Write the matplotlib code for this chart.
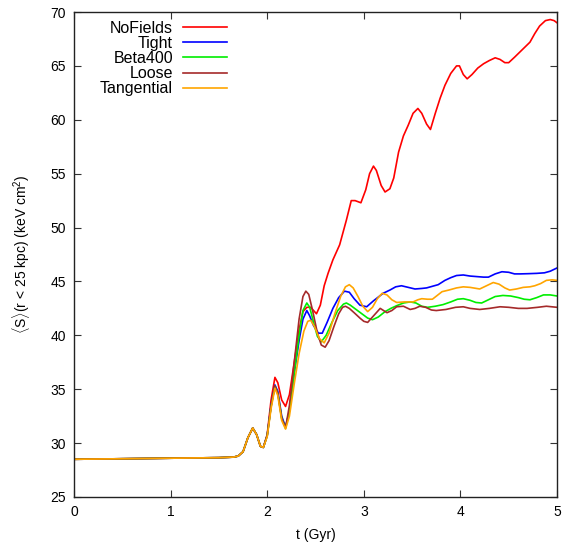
import matplotlib
matplotlib.use("Agg")
import matplotlib.pyplot as plt
import numpy as np

plt.rcParams['font.family'] = ['Liberation Sans', 'DejaVu Sans']
plt.rcParams['mathtext.fontset'] = 'custom'
plt.rcParams['mathtext.rm'] = 'Liberation Sans'
plt.rcParams['mathtext.it'] = 'Liberation Sans:italic'

# shared early evolution
t_common = [0.0, 0.5, 1.0, 1.5, 1.65, 1.70, 1.75, 1.80, 1.85, 1.89, 1.93, 1.96]
s_common = [28.5, 28.55, 28.6, 28.65, 28.7, 28.8, 29.2, 30.5, 31.4, 30.8, 29.7, 29.6]

t_nofields = [2.0, 2.04, 2.08, 2.11, 2.15, 2.19, 2.23, 2.28, 2.33, 2.37, 2.41, 2.45, 2.48, 2.51,
              2.55, 2.59, 2.63, 2.68, 2.75, 2.82, 2.87, 2.91, 2.97, 3.02, 3.06, 3.1, 3.13, 3.18,
              3.22, 3.27, 3.31, 3.36, 3.41, 3.46, 3.51, 3.56, 3.6, 3.65, 3.69, 3.74, 3.79, 3.84,
              3.9, 3.96, 3.99, 4.03, 4.07, 4.12, 4.18, 4.24, 4.3, 4.36, 4.41, 4.46, 4.5, 4.56,
              4.64, 4.72, 4.77, 4.82, 4.88, 4.93, 4.97, 5.0]
s_nofields = [30.8, 34.0, 36.1, 35.6, 34.0, 33.4, 34.5, 37.5, 40.5, 42.2, 42.6, 42.6, 42.3, 42.0,
              42.8, 44.6, 45.75, 47.0, 48.4, 50.7, 52.5, 52.5, 52.3, 53.5, 55.0, 55.7, 55.3, 53.9,
              53.3, 53.6, 54.6, 57.0, 58.5, 59.5, 60.6, 61.05, 60.6, 59.6, 59.1, 60.6, 62.0, 63.2,
              64.3, 65.0, 65.0, 64.2, 63.8, 64.2, 64.8, 65.2, 65.5, 65.75, 65.6, 65.3, 65.3, 65.8,
              66.5, 67.2, 68.0, 68.7, 69.2, 69.3, 69.2, 69.0]

t_tight = [2.0, 2.04, 2.08, 2.11, 2.15, 2.19, 2.23, 2.28, 2.33, 2.37, 2.41, 2.44, 2.48, 2.53,
           2.57, 2.62, 2.68, 2.74, 2.8, 2.85, 2.9, 2.96, 3.03, 3.1, 3.2, 3.27, 3.33, 3.39, 3.46,
           3.53, 3.6, 3.65, 3.71, 3.77, 3.84, 3.9, 3.96, 4.03, 4.1, 4.17, 4.24, 4.29, 4.36, 4.43,
           4.5, 4.56, 4.62, 4.7, 4.79, 4.87, 4.93, 5.0]
s_tight = [30.7, 33.5, 35.4, 34.8, 32.5, 31.5, 33.0, 36.5, 39.5, 41.5, 42.3, 41.8, 40.9, 40.2,
           40.2, 41.2, 42.5, 43.5, 44.1, 44.0, 43.4, 42.8, 42.65, 43.2, 43.9, 44.2, 44.5, 44.6, 44.45,
           44.3, 44.35, 44.4, 44.55, 44.7, 45.1, 45.35, 45.55, 45.6, 45.5, 45.45, 45.4, 45.4, 45.7, 45.9,
           45.85, 45.7, 45.7, 45.72, 45.75, 45.8, 45.95, 46.25]

t_beta = [2.0, 2.04, 2.08, 2.11, 2.15, 2.19, 2.23, 2.28, 2.33, 2.37, 2.41, 2.44, 2.48, 2.52,
          2.56, 2.61, 2.67, 2.73, 2.79, 2.82, 2.86, 2.92, 2.98, 3.04, 3.09, 3.15, 3.22, 3.28, 3.34,
          3.41, 3.48, 3.54, 3.6, 3.66, 3.74, 3.82, 3.9, 3.97, 4.03, 4.1, 4.16, 4.22, 4.29, 4.36,
          4.44, 4.52, 4.6, 4.66, 4.72, 4.79, 4.86, 4.93, 5.0]
s_beta = [30.7, 33.4, 35.3, 34.6, 32.3, 31.4, 33.0, 36.5, 40.0, 42.3, 43.0, 42.6, 41.2, 39.9,
          39.4, 40.0, 41.2, 42.3, 42.9, 43.0, 42.8, 42.4, 42.0, 41.6, 41.45, 41.7, 42.2, 42.5, 42.75,
          43.0, 43.1, 43.0, 42.7, 42.6, 42.7, 42.85, 43.1, 43.35, 43.4, 43.25, 43.05, 43.0, 43.3, 43.6,
          43.7, 43.65, 43.5, 43.35, 43.3, 43.5, 43.75, 43.75, 43.65]

t_loose = [2.0, 2.04, 2.08, 2.11, 2.15, 2.19, 2.23, 2.28, 2.33, 2.37, 2.40, 2.43, 2.47, 2.52,
           2.56, 2.6, 2.64, 2.69, 2.74, 2.78, 2.81, 2.85, 2.9, 2.96, 3.0, 3.04, 3.1, 3.17, 3.24,
           3.29, 3.34, 3.41, 3.48, 3.53, 3.58, 3.64, 3.7, 3.75, 3.85, 3.95, 4.03, 4.1, 4.2, 4.3,
           4.41, 4.5, 4.6, 4.69, 4.8, 4.89, 5.0]
s_loose = [30.7, 33.4, 35.3, 34.6, 32.3, 31.4, 33.5, 37.5, 41.5, 43.6, 44.1, 43.8, 42.3, 40.2,
           39.1, 38.9, 39.5, 40.8, 42.0, 42.6, 42.7, 42.5, 42.1, 41.6, 41.3, 41.2, 41.8, 42.5, 42.1,
           42.3, 42.65, 42.7, 42.4, 42.5, 42.7, 42.6, 42.35, 42.3, 42.4, 42.6, 42.65, 42.5, 42.4, 42.5,
           42.65, 42.6, 42.5, 42.5, 42.6, 42.7, 42.6]

t_tang = [2.0, 2.04, 2.08, 2.11, 2.15, 2.19, 2.23, 2.28, 2.33, 2.38, 2.42, 2.45, 2.49, 2.54,
          2.59, 2.64, 2.7, 2.76, 2.81, 2.85, 2.89, 2.94, 2.99, 3.04, 3.09, 3.14, 3.19, 3.24, 3.29,
          3.34, 3.42, 3.51, 3.56, 3.6, 3.66, 3.71, 3.76, 3.81, 3.88, 3.96, 4.03, 4.1, 4.2, 4.27,
          4.34, 4.4, 4.46, 4.51, 4.58, 4.65, 4.72, 4.77, 4.83, 4.89, 4.95, 5.0]
s_tang = [30.6, 33.2, 35.1, 34.4, 32.1, 31.3, 32.5, 35.5, 38.3, 40.4, 41.3, 41.4, 40.8, 39.7,
          39.3, 40.2, 42.0, 43.6, 44.5, 44.7, 44.4, 43.6, 42.7, 42.2, 42.6, 43.4, 43.9, 43.75, 43.3,
          43.05, 43.1, 43.1, 43.3, 43.4, 43.35, 43.35, 43.7, 44.05, 44.2, 44.4, 44.5, 44.45, 44.3, 44.6,
          44.9, 44.75, 44.4, 44.2, 44.3, 44.45, 44.5, 44.6, 44.8, 45.1, 45.15, 45.1]

labels = ["NoFields", "Tight", "Beta400", "Loose", "Tangential"]
colors = ["#ff0000", "#0000ff", "#00ee00", "#a52a2a", "#ffa500"]
series_t = [t_nofields, t_tight, t_beta, t_loose, t_tang]
series_s = [s_nofields, s_tight, s_beta, s_loose, s_tang]

x_ticks = [0, 1, 2, 3, 4, 5]
y_ticks = [25, 30, 35, 40, 45, 50, 55, 60, 65, 70]

fig = plt.figure(figsize=(5.63, 5.42), dpi=100)
ax = fig.add_axes([74/563, 45/542, 483/563, 485/542])

for lab, col, tt, ss in zip(labels, colors, series_t, series_s):
    ax.plot(t_common + tt, s_common + ss, color=col, lw=1.2, label=lab)

ax.set_xlim(0, 5)
ax.set_ylim(25, 70)
ax.set_xticks(x_ticks)
ax.set_yticks(y_ticks)
ax.tick_params(direction='in', length=5, width=0.8, top=True, right=True,
               labelsize=10, color='#333333', pad=6)
for sp in ax.spines.values():
    sp.set_linewidth(1.0)
    sp.set_color('#222222')

ax.set_xlabel("t (Gyr)", fontsize=10, labelpad=6)
ax.set_ylabel(r"$\langle$S$\rangle$(r < 25 kpc) (keV cm$^2$)", fontsize=10, labelpad=13)

leg = ax.legend(loc='upper left', bbox_to_anchor=(0.034, 1.002), frameon=False,
                markerfirst=False, fontsize=11.5, handlelength=2.75, handletextpad=0.62,
                labelspacing=0.01, borderaxespad=0.2)

fig.savefig("out.png", dpi=100)
